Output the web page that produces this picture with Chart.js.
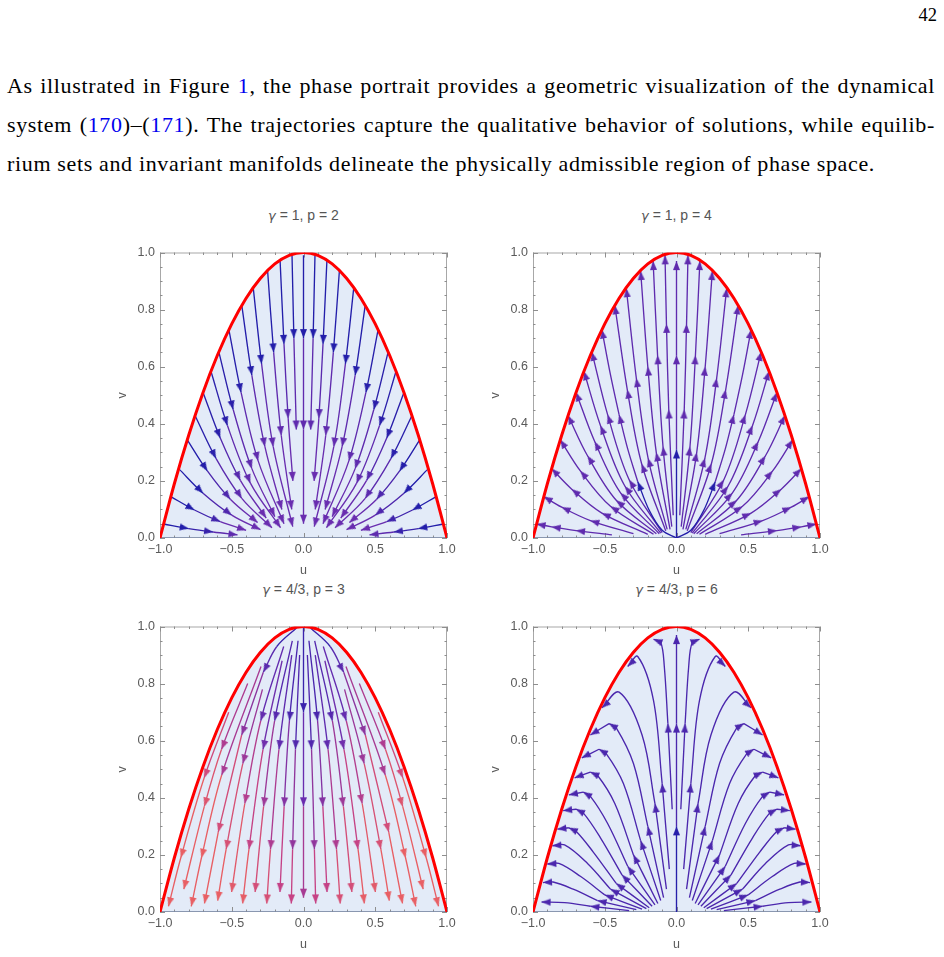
<!DOCTYPE html>
<html>
<head>
<meta charset="utf-8">
<script src="https://cdn.jsdelivr.net/npm/chart.js@4.4.1/dist/chart.umd.min.js"></script>
<style>
  html, body { margin: 0; padding: 0; background: #fff; }
  body { width: 944px; height: 957px; position: relative; overflow: hidden; }
  .tex { position: absolute; font-family: "Liberation Serif", "Times New Roman", serif; color: #000; white-space: nowrap; line-height: 21px; }
  .body { left: 7px; font-size: 22px; }
  .ref { color: #0000ee; }
  .ptitle { position: absolute; width: 200px; margin-left: -100px; text-align: center; font-family: "Liberation Sans", Arial, sans-serif; font-size: 14px; color: #555; line-height: 16px; }
  .ptitle i { font-family: "DejaVu Sans", sans-serif; font-size: 13px; }
  canvas { position: absolute; }
</style>
</head>
<body>
<div class="tex" style="right:7px;top:5px;font-size:18.5px;">42</div>
<div class="tex body just" style="top:74.5px">As illustrated in Figure <span class="ref">1</span>, the phase portrait provides a geometric visualization of the dynamical</div>
<div class="tex body just" style="top:113.8px">system (<span class="ref">170</span>)–(<span class="ref">171</span>). The trajectories capture the qualitative behavior of solutions, while equilib-</div>
<div class="tex body" id="last" style="top:153.1px">rium sets and invariant manifolds delineate the physically admissible region of phase space.</div>

<div class="ptitle" style="left:303.5px;top:207px"><i>γ</i> = 1, p = 2</div>
<div class="ptitle" style="left:676.5px;top:207px"><i>γ</i> = 1, p = 4</div>
<div class="ptitle" style="left:303.5px;top:581px"><i>γ</i> = 4/3, p = 3</div>
<div class="ptitle" style="left:676.5px;top:581px"><i>γ</i> = 4/3, p = 6</div>

<canvas id="c1" width="351" height="338" style="left:110px;top:240px"></canvas>
<canvas id="c2" width="351" height="338" style="left:483px;top:240px"></canvas>
<canvas id="c3" width="351" height="338" style="left:110px;top:614px"></canvas>
<canvas id="c4" width="351" height="338" style="left:483px;top:614px"></canvas>

<script>
// boundary of the admissible region
const uEdge = [-1, -0.9, -0.8, -0.7, -0.6, -0.5, -0.4, -0.3, -0.2, -0.1, 0, 0.1, 0.2, 0.3, 0.4, 0.5, 0.6, 0.7, 0.8, 0.9, 1];
const vEdge = [0, 0.19, 0.36, 0.51, 0.64, 0.75, 0.84, 0.91, 0.96, 0.99, 1, 0.99, 0.96, 0.91, 0.84, 0.75, 0.64, 0.51, 0.36, 0.19, 0];
const uBase = [-1, 1];
const vBase = [0, 0];

const xTickValues = [-1, -0.5, 0, 0.5, 1];
const yTickValues = [0, 0.2, 0.4, 0.6, 0.8, 1];

// streamlines as [u, v, u, v, ...]; a flat list gets an arrowhead on every vertex after the first,
// a list of pieces gets one arrowhead at the end of each piece
const p1Streams = [
  [0, 0.99, 0, 0.70, 0, 0.38, 0, 0.05],
  [-0.08, 0.99, -0.067, 0.70, -0.05, 0.38],
  [-0.163, 0.97, -0.136, 0.68, -0.107, 0.42, -0.074, 0.2],
  [-0.25, 0.935, -0.208, 0.65, -0.155, 0.36, -0.082, 0.1],
  [-0.35, 0.875, -0.292, 0.61, -0.211, 0.32, -0.075, 0.04],
  [-0.43, 0.815, -0.36, 0.57, -0.269, 0.32, -0.151, 0.1],
  [-0.52, 0.73, -0.435, 0.51, -0.316, 0.27, -0.136, 0.05],
  [-0.59, 0.652, -0.49, 0.45, -0.36, 0.243, -0.2, 0.075],
  [-0.645, 0.584, -0.53, 0.394, -0.37, 0.192, -0.16, 0.036],
  [-0.70, 0.51, -0.58, 0.35, -0.44, 0.202, -0.26, 0.07],
  [-0.756, 0.429, -0.61, 0.279, -0.43, 0.139, -0.22, 0.036],
  [-0.81, 0.344, -0.67, 0.235, -0.51, 0.136, -0.32, 0.054],
  [-0.87, 0.243, -0.70, 0.157, -0.50, 0.08, -0.30, 0.029],
  [-0.925, 0.145, -0.76, 0.098, -0.58, 0.057, -0.40, 0.027],
  [-0.975, 0.049, -0.80, 0.033, -0.63, 0.021, -0.46, 0.011],
  [0.08, 0.99, 0.067, 0.70, 0.05, 0.38],
  [0.163, 0.97, 0.136, 0.68, 0.107, 0.42, 0.074, 0.2],
  [0.25, 0.935, 0.208, 0.65, 0.155, 0.36, 0.082, 0.1],
  [0.35, 0.875, 0.292, 0.61, 0.211, 0.32, 0.075, 0.04],
  [0.43, 0.815, 0.36, 0.57, 0.269, 0.32, 0.151, 0.1],
  [0.52, 0.73, 0.435, 0.51, 0.316, 0.27, 0.136, 0.05],
  [0.59, 0.652, 0.49, 0.45, 0.36, 0.243, 0.2, 0.075],
  [0.645, 0.584, 0.53, 0.394, 0.37, 0.192, 0.16, 0.036],
  [0.70, 0.51, 0.58, 0.35, 0.44, 0.202, 0.26, 0.07],
  [0.756, 0.429, 0.61, 0.279, 0.43, 0.139, 0.22, 0.036],
  [0.81, 0.344, 0.67, 0.235, 0.51, 0.136, 0.32, 0.054],
  [0.87, 0.243, 0.70, 0.157, 0.50, 0.08, 0.30, 0.029],
  [0.925, 0.145, 0.76, 0.098, 0.58, 0.057, 0.40, 0.027],
  [0.975, 0.049, 0.80, 0.033, 0.63, 0.021, 0.46, 0.011]
];

const p2Streams = [
  [[0, 0, 0, 0.31], [0, 0.31, 0, 0.64], [0, 0.64, 0, 0.97]],
  [-0.023, 0.08, -0.054, 0.45, -0.07, 0.75, -0.08, 0.99],
  [-0.033, 0.04, -0.094, 0.32, -0.132, 0.64, -0.163, 0.97],
  [-0.045, 0.03, -0.141, 0.30, -0.20, 0.60, -0.25, 0.935],
  [-0.065, 0.03, -0.198, 0.28, -0.28, 0.56, -0.35, 0.875],
  [-0.075, 0.025, -0.243, 0.26, -0.343, 0.52, -0.43, 0.815],
  [[0, 0, -0.1, 0.027, -0.19, 0.097, -0.27, 0.197], [-0.27, 0.197, -0.34, 0.312, -0.40, 0.432], [-0.40, 0.432, -0.46, 0.571, -0.52, 0.73]],
  [-0.10, 0.019, -0.33, 0.204, -0.48, 0.432, -0.59, 0.652],
  [-0.11, 0.017, -0.36, 0.182, -0.53, 0.394, -0.645, 0.584],
  [-0.12, 0.015, -0.39, 0.158, -0.57, 0.338, -0.70, 0.51],
  [-0.14, 0.015, -0.42, 0.132, -0.62, 0.288, -0.756, 0.429],
  [-0.16, 0.013, -0.46, 0.111, -0.67, 0.235, -0.81, 0.344],
  [-0.20, 0.013, -0.52, 0.087, -0.73, 0.171, -0.87, 0.243],
  [-0.30, 0.015, -0.60, 0.061, -0.80, 0.108, -0.925, 0.145],
  [-0.45, 0.011, -0.70, 0.026, -0.87, 0.039, -0.975, 0.049],
  [0.023, 0.08, 0.054, 0.45, 0.07, 0.75, 0.08, 0.99],
  [0.033, 0.04, 0.094, 0.32, 0.132, 0.64, 0.163, 0.97],
  [0.045, 0.03, 0.141, 0.30, 0.20, 0.60, 0.25, 0.935],
  [0.065, 0.03, 0.198, 0.28, 0.28, 0.56, 0.35, 0.875],
  [0.075, 0.025, 0.243, 0.26, 0.343, 0.52, 0.43, 0.815],
  [[0, 0, 0.1, 0.027, 0.19, 0.097, 0.27, 0.197], [0.27, 0.197, 0.34, 0.312, 0.40, 0.432], [0.40, 0.432, 0.46, 0.571, 0.52, 0.73]],
  [0.10, 0.019, 0.33, 0.204, 0.48, 0.432, 0.59, 0.652],
  [0.11, 0.017, 0.36, 0.182, 0.53, 0.394, 0.645, 0.584],
  [0.12, 0.015, 0.39, 0.158, 0.57, 0.338, 0.70, 0.51],
  [0.14, 0.015, 0.42, 0.132, 0.62, 0.288, 0.756, 0.429],
  [0.16, 0.013, 0.46, 0.111, 0.67, 0.235, 0.81, 0.344],
  [0.20, 0.013, 0.52, 0.087, 0.73, 0.171, 0.87, 0.243],
  [0.30, 0.015, 0.60, 0.061, 0.80, 0.108, 0.925, 0.145],
  [0.45, 0.011, 0.70, 0.026, 0.87, 0.039, 0.975, 0.049]
];

const p3Streams = [
  [0, 0.995, 0, 0.70, 0, 0.37, 0, 0.05],
  [-0.521, 0.70, -0.692, 0.47, -0.855, 0.19, -0.941, 0.02],
  [-0.389, 0.80, -0.571, 0.57, -0.691, 0.37, -0.834, 0.08],
  [-0.296, 0.86, -0.570, 0.48, -0.711, 0.19, -0.782, 0.02],
  [[-0.049, 0.995, -0.186, 0.93, -0.28, 0.84], [-0.28, 0.84, -0.431, 0.62], [-0.431, 0.62, -0.594, 0.28], [-0.594, 0.28, -0.69, 0.03]],
  [-0.286, 0.78, -0.423, 0.52, -0.539, 0.22, -0.598, 0.04],
  [-0.138, 0.93, -0.298, 0.67, -0.409, 0.38, -0.501, 0.07],
  [-0.149, 0.88, -0.282, 0.57, -0.38, 0.22, -0.424, 0.03],
  [-0.078, 0.95, -0.201, 0.67, -0.278, 0.37, -0.337, 0.07],
  [-0.082, 0.90, -0.171, 0.57, -0.23, 0.22, -0.256, 0.03],
  [-0.038, 0.95, -0.098, 0.67, -0.135, 0.37, -0.164, 0.07],
  [-0.027, 0.90, -0.056, 0.57, -0.076, 0.22, -0.085, 0.03],
  [0.521, 0.70, 0.692, 0.47, 0.855, 0.19, 0.941, 0.02],
  [0.389, 0.80, 0.571, 0.57, 0.691, 0.37, 0.834, 0.08],
  [0.296, 0.86, 0.570, 0.48, 0.711, 0.19, 0.782, 0.02],
  [[0.049, 0.995, 0.186, 0.93, 0.28, 0.84], [0.28, 0.84, 0.431, 0.62], [0.431, 0.62, 0.594, 0.28], [0.594, 0.28, 0.69, 0.03]],
  [0.286, 0.78, 0.423, 0.52, 0.539, 0.22, 0.598, 0.04],
  [0.138, 0.93, 0.298, 0.67, 0.409, 0.38, 0.501, 0.07],
  [0.149, 0.88, 0.282, 0.57, 0.38, 0.22, 0.424, 0.03],
  [0.078, 0.95, 0.201, 0.67, 0.278, 0.37, 0.337, 0.07],
  [0.082, 0.90, 0.171, 0.57, 0.23, 0.22, 0.256, 0.03],
  [0.038, 0.95, 0.098, 0.67, 0.135, 0.37, 0.164, 0.07],
  [0.027, 0.90, 0.056, 0.57, 0.076, 0.22, 0.085, 0.03]
];

const p4Streams = [
  [[0, 0, 0, 0.3], [0, 0.3, 0, 0.66], [0, 0.66, 0, 0.97]],
  [[-0.03, 0.36, -0.06, 0.66], [-0.06, 0.66, -0.085, 0.86, -0.11, 0.945, -0.16, 0.955]],
  [[-0.05, 0.15, -0.1, 0.45], [-0.1, 0.45, -0.16, 0.74, -0.27, 0.895, -0.34, 0.86]],
  [[-0.07, 0.08, -0.15, 0.38], [-0.15, 0.38, -0.24, 0.62, -0.40, 0.77, -0.52, 0.715]],
  [[-0.09, 0.05, -0.2, 0.3], [-0.2, 0.3, -0.3, 0.52, -0.42, 0.645, -0.47, 0.66], [-0.47, 0.66, -0.6, 0.62]],
  [[-0.11, 0.04, -0.25, 0.25], [-0.25, 0.25, -0.37, 0.45, -0.49, 0.555, -0.54, 0.57], [-0.54, 0.57, -0.66, 0.54]],
  [[-0.13, 0.03, -0.3, 0.2], [-0.3, 0.2, -0.43, 0.38, -0.55, 0.478, -0.6, 0.49], [-0.6, 0.49, -0.71, 0.47]],
  [[-0.15, 0.025, -0.34, 0.16], [-0.34, 0.16, -0.48, 0.31, -0.6, 0.405, -0.65, 0.42], [-0.65, 0.42, -0.75, 0.41]],
  [[-0.17, 0.02, -0.38, 0.13], [-0.38, 0.13, -0.53, 0.26, -0.65, 0.347, -0.70, 0.36], [-0.70, 0.36, -0.79, 0.355]],
  [[-0.19, 0.015, -0.42, 0.1], [-0.42, 0.1, -0.58, 0.21, -0.70, 0.283, -0.75, 0.295], [-0.75, 0.295, -0.83, 0.29]],
  [[-0.21, 0.012, -0.46, 0.08], [-0.46, 0.08, -0.62, 0.17, -0.78, 0.235, -0.865, 0.232]],
  [[-0.24, 0.01, -0.5, 0.06], [-0.5, 0.06, -0.67, 0.125, -0.82, 0.17, -0.9, 0.168]],
  [[-0.28, 0.008, -0.55, 0.04], [-0.55, 0.04, -0.72, 0.08, -0.86, 0.105, -0.93, 0.103]],
  [[-0.33, 0.005, -0.6, 0.02], [-0.6, 0.02, -0.78, 0.033, -0.94, 0.035]],
  [[0.03, 0.36, 0.06, 0.66], [0.06, 0.66, 0.085, 0.86, 0.11, 0.945, 0.16, 0.955]],
  [[0.05, 0.15, 0.1, 0.45], [0.1, 0.45, 0.16, 0.74, 0.27, 0.895, 0.34, 0.86]],
  [[0.07, 0.08, 0.15, 0.38], [0.15, 0.38, 0.24, 0.62, 0.40, 0.77, 0.52, 0.715]],
  [[0.09, 0.05, 0.2, 0.3], [0.2, 0.3, 0.3, 0.52, 0.42, 0.645, 0.47, 0.66], [0.47, 0.66, 0.6, 0.62]],
  [[0.11, 0.04, 0.25, 0.25], [0.25, 0.25, 0.37, 0.45, 0.49, 0.555, 0.54, 0.57], [0.54, 0.57, 0.66, 0.54]],
  [[0.13, 0.03, 0.3, 0.2], [0.3, 0.2, 0.43, 0.38, 0.55, 0.478, 0.6, 0.49], [0.6, 0.49, 0.71, 0.47]],
  [[0.15, 0.025, 0.34, 0.16], [0.34, 0.16, 0.48, 0.31, 0.6, 0.405, 0.65, 0.42], [0.65, 0.42, 0.75, 0.41]],
  [[0.17, 0.02, 0.38, 0.13], [0.38, 0.13, 0.53, 0.26, 0.65, 0.347, 0.70, 0.36], [0.70, 0.36, 0.79, 0.355]],
  [[0.19, 0.015, 0.42, 0.1], [0.42, 0.1, 0.58, 0.21, 0.70, 0.283, 0.75, 0.295], [0.75, 0.295, 0.83, 0.29]],
  [[0.21, 0.012, 0.46, 0.08], [0.46, 0.08, 0.62, 0.17, 0.78, 0.235, 0.865, 0.232]],
  [[0.24, 0.01, 0.5, 0.06], [0.5, 0.06, 0.67, 0.125, 0.82, 0.17, 0.9, 0.168]],
  [[0.28, 0.008, 0.55, 0.04], [0.55, 0.04, 0.72, 0.08, 0.86, 0.105, 0.93, 0.103]],
  [[0.33, 0.005, 0.6, 0.02], [0.6, 0.02, 0.78, 0.033, 0.94, 0.035]]
];

// speed-like colouring: blue -> violet -> magenta -> salmon
const stops = [[0, [35, 30, 170]], [0.35, [105, 45, 175]], [0.7, [195, 65, 135]], [1, [232, 95, 100]]];
const clamp = t => Math.max(0, Math.min(1, t));
function paint(t) {
  t = clamp(t);
  for (let i = 1; i < stops.length; i++) {
    if (t <= stops[i][0]) {
      const [t0, c0] = stops[i - 1];
      const [t1, c1] = stops[i];
      const f = (t - t0) / (t1 - t0);
      return 'rgb(' + c0.map((c, k) => Math.round(c + (c1[k] - c) * f)).join(',') + ')';
    }
  }
}
const atOrigin = p => p.x === 0 && p.y === 0;
const colorRules = [
  (a, b) => 0.35 * clamp((0.8 - Math.hypot((a.x + b.x) / 2, (a.y + b.y) / 2)) / 0.3),
  (a, b, first) => atOrigin(first) ? 0 : 0.3,
  (a, b) => clamp(0.8 * Math.abs((a.x + b.x) / 2) + 0.75 * (1 - (a.y + b.y) / 2)),
  (a, b, first) => atOrigin(first) ? 0.02 : 0.2
];

const headCache = {};
function headImage(color) {
  if (headCache[color]) return headCache[color];
  const c = document.createElement('canvas');
  c.width = 7; c.height = 20;
  const g = c.getContext('2d');
  g.fillStyle = color;
  g.beginPath();
  g.moveTo(3.5, 10);
  g.lineTo(7, 19);
  g.lineTo(0, 19);
  g.closePath();
  g.fill();
  headCache[color] = c;
  return c;
}

function toPoints(flat) {
  const pts = [];
  for (let i = 0; i < flat.length; i += 2) pts.push({ x: flat[i], y: flat[i + 1] });
  return pts;
}

function streamSets(streams, rule) {
  const lines = [];
  const heads = [];
  streams.forEach(s => {
    const flat = typeof s[0] === 'number';
    const pieces = flat ? [s] : s;
    pieces.forEach(piece => {
      const pts = toPoints(piece);
      lines.push({
        data: pts,
        showLine: true,
        pointRadius: 0,
        borderWidth: 1.35,
        tension: 0.35,
        fill: false,
        order: 2,
        borderColor: paint(rule(pts[0], pts[1], pts[0])),
        segment: { borderColor: c => paint(rule(pts[c.p0DataIndex], pts[c.p1DataIndex], pts[0])) }
      });
      const n = pts.length;
      const from = flat ? 1 : n - 1;
      for (let i = from; i < n; i++) {
        heads.push({ x: pts[i].x, y: pts[i].y, px: pts[i - 1].x, py: pts[i - 1].y,
          col: paint(rule(pts[i - 1], pts[i], pts[0])) });
      }
    });
  });
  return { lines, heads };
}

const fmt = v => (v < 0 ? '\u2212' : '') + Math.abs(v).toFixed(1);

const framePlugin = {
  id: 'frame',
  beforeDatasetsDraw(chart) {
    const { ctx, chartArea: a, scales: { x, y } } = chart;
    ctx.save();
    ctx.strokeStyle = '#a8a8a8';
    ctx.lineWidth = 1;
    ctx.strokeRect(a.left + 0.5, a.top + 0.5, a.right - a.left - 1, a.bottom - a.top - 1);
    ctx.strokeStyle = '#8e8e8e';
    ctx.beginPath();
    for (let i = -10; i <= 10; i++) {
      const px = Math.round(x.getPixelForValue(i / 10)) + 0.5;
      const len = i % 5 === 0 ? 5 : 2.5;
      ctx.moveTo(px, a.bottom); ctx.lineTo(px, a.bottom - len);
      ctx.moveTo(px, a.top); ctx.lineTo(px, a.top + len);
    }
    for (let j = 0; j <= 20; j++) {
      const py = Math.round(y.getPixelForValue(j / 20)) + 0.5;
      const len = j % 4 === 0 ? 5 : 2.5;
      ctx.moveTo(a.left, py); ctx.lineTo(a.left + len, py);
      ctx.moveTo(a.right, py); ctx.lineTo(a.right - len, py);
    }
    ctx.stroke();
    ctx.restore();
  }
};

const tickFont = { family: 'Liberation Sans', size: 12.5 };
const labelFont = { family: 'Liberation Sans', size: 12.5 };

function buildChart(canvasId, streams, rule) {
  const { lines, heads } = streamSets(streams, rule);
  const edge = uEdge.map((u, i) => ({ x: u, y: vEdge[i] }));
  const base = uBase.map((u, i) => ({ x: u, y: vBase[i] }));
  return new Chart(document.getElementById(canvasId), {
    type: 'scatter',
    data: {
      datasets: [
        { data: edge, showLine: true, borderColor: '#ff0000', borderWidth: 3, backgroundColor: '#e3ebf8',
          fill: 'origin', pointRadius: 0, cubicInterpolationMode: 'monotone', order: 0 },
        { data: heads, showLine: false, pointRadius: 3, order: 1,
          pointStyle: c => c.raw ? headImage(c.raw.col) : 'circle',
          pointRotation: c => {
            const r = c.raw;
            if (!r) return 0;
            const sx = c.chart.scales.x, sy = c.chart.scales.y;
            const dx = sx.getPixelForValue(r.x) - sx.getPixelForValue(r.px);
            const dy = sy.getPixelForValue(r.y) - sy.getPixelForValue(r.py);
            return Math.atan2(dx, -dy) * 180 / Math.PI;
          } },
        ...lines,
        { data: base, showLine: true, borderColor: '#6d85b8', borderWidth: 1.2, pointRadius: 0, fill: false, order: 3 }
      ]
    },
    options: {
      responsive: false,
      animation: false,
      events: [],
      layout: { padding: { left: 0, top: 12, right: 14, bottom: 0 } },
      plugins: {
        legend: { display: false },
        tooltip: { enabled: false },
        filler: { drawTime: 'beforeDatasetsDraw' }
      },
      scales: {
        x: {
          type: 'linear', min: -1, max: 1,
          afterBuildTicks: s => { s.ticks = xTickValues.map(v => ({ value: v })); },
          afterFit: s => { s.height = 40; },
          grid: { display: false, drawTicks: false },
          border: { display: false },
          ticks: { color: '#5a5a5a', font: tickFont, padding: 4, maxRotation: 0, autoSkip: false, callback: fmt },
          title: { display: true, text: 'u', color: '#5a5a5a', font: labelFont, padding: { top: 0, bottom: 0 } }
        },
        y: {
          type: 'linear', min: 0, max: 1,
          afterBuildTicks: s => { s.ticks = yTickValues.map(v => ({ value: v })); },
          afterFit: s => { s.width = 50; },
          grid: { display: false, drawTicks: false },
          border: { display: false },
          ticks: { color: '#5a5a5a', font: tickFont, padding: 5, autoSkip: false, callback: fmt },
          title: { display: true, text: 'v', color: '#5a5a5a', font: labelFont, padding: { top: 5, bottom: 0 } }
        }
      }
    },
    plugins: [framePlugin]
  });
}

buildChart('c1', p1Streams, colorRules[0]);
buildChart('c2', p2Streams, colorRules[1]);
buildChart('c3', p3Streams, colorRules[2]);
buildChart('c4', p4Streams, colorRules[3]);

// widen the serif text to the width of the original typeset block, then justify full lines
const last = document.getElementById('last');
const spread = (868 - last.getBoundingClientRect().width) / last.textContent.length;
document.querySelectorAll('.body').forEach(el => { el.style.letterSpacing = spread + 'px'; });
document.querySelectorAll('.just').forEach(el => {
  const gaps = (el.textContent.match(/ /g) || []).length;
  const w = el.getBoundingClientRect().width;
  el.style.wordSpacing = ((928 - w) / gaps) + 'px';
});
</script>
</body>
</html>
